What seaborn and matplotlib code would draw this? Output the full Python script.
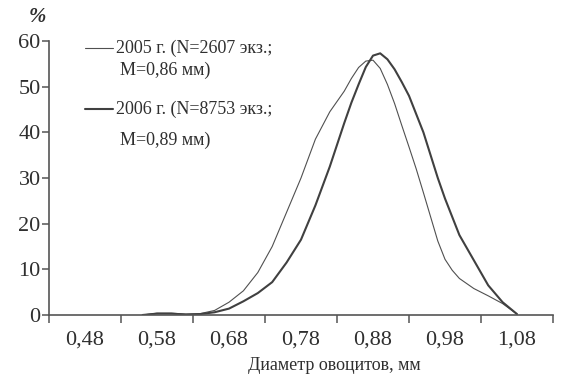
import matplotlib
matplotlib.use("Agg")
import matplotlib.pyplot as plt
from matplotlib.lines import Line2D
from matplotlib.ticker import FixedLocator
import numpy as np
import pandas as pd
import seaborn as sns

# ---- data ----
diam = [0.56, 0.58, 0.60, 0.62, 0.64, 0.66, 0.68, 0.70, 0.72, 0.74, 0.76, 0.78,
        0.80, 0.82, 0.84, 0.85, 0.86, 0.87, 0.88, 0.89, 0.90, 0.91, 0.92, 0.93,
        0.94, 0.95, 0.96, 0.97, 0.98, 0.99, 1.00, 1.02, 1.04, 1.06, 1.08]
pct_2005 = [0.0, 0.4, 0.4, 0.2, 0.3, 1.0, 2.8, 5.3, 9.3, 15.0, 22.5, 30.0,
            38.5, 44.5, 49.0, 51.8, 54.2, 55.6, 55.8, 54.0, 50.5, 46.3, 41.5, 36.8,
            32.0, 26.8, 21.5, 16.2, 12.2, 9.8, 8.0, 5.8, 4.2, 2.5, 0.2]
pct_2006 = [0.0, 0.3, 0.3, 0.1, 0.2, 0.6, 1.4, 3.0, 4.8, 7.2, 11.5, 16.5,
            24.0, 32.5, 42.0, 46.5, 50.5, 54.3, 56.8, 57.3, 56.0, 53.8, 51.0, 48.0,
            44.0, 40.0, 35.0, 30.0, 25.5, 21.5, 17.5, 12.0, 6.5, 2.8, 0.2]
tick_labels = ["0,48", "0,58", "0,68", "0,78", "0,88", "0,98", "1,08"]
tick_values = [0.48, 0.58, 0.68, 0.78, 0.88, 0.98, 1.08]
y_ticks = [0, 10, 20, 30, 40, 50, 60]
label_2005 = ["2005 г. (N=2607 экз.;", "M=0,86 мм)"]
label_2006 = ["2006 г. (N=8753 экз.;", "M=0,89 мм)"]

df05 = pd.DataFrame({"d": diam, "p": pct_2005})
df06 = pd.DataFrame({"d": diam, "p": pct_2006})

sns.set_theme(style="white")
plt.rcParams["font.family"] = ["Liberation Serif", "DejaVu Serif"]

W, H = 563, 387
fig = plt.figure(figsize=(W / 100, H / 100), dpi=100)
L, R, T, B = 49, 553, 41, 315
ax = fig.add_axes([L / W, 1 - B / H, (R - L) / W, (B - T) / H])

thin_col = "#505050"
thick_col = "#404040"
text_col = "#2f2f2f"
sns.lineplot(data=df05, x="d", y="p", ax=ax, color=thin_col, linewidth=0.8,
             solid_joinstyle="round", solid_capstyle="round")
sns.lineplot(data=df06, x="d", y="p", ax=ax, color=thick_col, linewidth=1.5,
             solid_joinstyle="round", solid_capstyle="round")

ax.set_xlim(0.43, 1.13)
ax.set_ylim(0, 60)
for s in ["top", "right"]:
    ax.spines[s].set_visible(False)
for s in ["left", "bottom"]:
    ax.spines[s].set_color("#555555")
    ax.spines[s].set_linewidth(1.2)

ax.xaxis.set_major_locator(FixedLocator(tick_values))
ax.set_xticklabels(tick_labels)
ax.xaxis.set_minor_locator(FixedLocator([0.43 + 0.1 * i for i in range(8)]))
ax.tick_params(axis="x", which="major", length=0, pad=11, labelsize=16, labelcolor=text_col)
ax.tick_params(axis="x", which="minor", bottom=True, length=6, width=1.1, color="#555555", direction="out")
ax.set_yticks(y_ticks)
ax.tick_params(axis="y", which="major", left=True, length=5, width=1.1, color="#555555",
               direction="out", pad=1, labelsize=16, labelcolor=text_col)

ax.set_xlabel("Диаметр овоцитов, мм", fontsize=13, color=text_col)
ax.set_ylabel("")
ax.xaxis.set_label_coords((334 - L) / (R - L), -(366 - B) / (B - T))
ax.xaxis.label.set_va("center")

fig.text(37 / W, 1 - 17 / H, "%", fontsize=15, fontstyle="italic", fontweight="bold",
         color=text_col, ha="center", va="center")

# legend drawn by hand
fig.add_artist(Line2D([85 / W, 113 / W], [1 - 48 / H, 1 - 48 / H], color=thin_col,
                      linewidth=0.8, transform=fig.transFigure))
fig.add_artist(Line2D([85 / W, 113 / W], [1 - 109 / H, 1 - 109 / H], color=thick_col,
                      linewidth=1.5, transform=fig.transFigure))
for txt, xp, yp in [(label_2005[0], 116, 48), (label_2005[1], 120, 70),
                    (label_2006[0], 116, 109), (label_2006[1], 120, 140)]:
    fig.text(xp / W, 1 - yp / H, txt, fontsize=13, color=text_col, ha="left", va="center")

fig.savefig("out.png", dpi=100, facecolor="white")
